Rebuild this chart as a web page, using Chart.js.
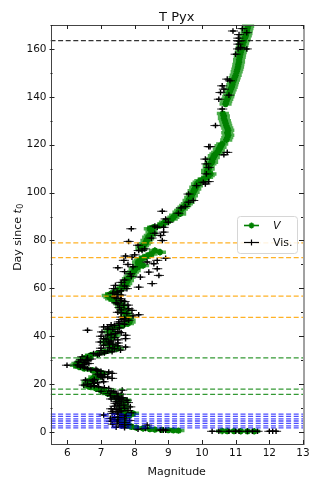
<!DOCTYPE html>
<html><head><meta charset="utf-8">
<script src="https://cdn.jsdelivr.net/npm/chart.js@4.4.0/dist/chart.umd.min.js"></script>
<style>html,body{margin:0;padding:0;background:#fff;}#wrap{width:322px;height:483px;}</style>
</head><body><div id="wrap"><canvas id="c" width="322" height="483"></canvas></div>
<script>
// ---- Data (magnitude vs day since t0) ----
const vDay = [0.3,0.3,0.35,0.4,0.4,0.45,0.6,0.7,0.8,0.9,1.0,1.2,1.5,1.8,2.2,2.7,3.2,3.8,4.3,5.0,5.7,6.3,7.0,7.8,8.5,9.2,9.9,10.6,11.3,12.0,12.7,13.3,14.0,14.7,15.4,16.1,16.8,17.5,18.2,18.9,19.6,20.3,21.0,21.7,22.4,23.0,23.7,24.5,25.1,25.8,26.5,27.2,27.9,28.6,29.3,30.0,30.7,31.4,32.1,32.8,33.5,34.2,34.9,35.5,36.2,37.0,37.6,38.3,39.0,39.7,40.4,41.1,41.8,42.5,43.2,43.9,44.6,45.3,46.0,46.7,47.4,48.0,48.7,49.5,50.1,50.8,51.5,52.2,52.9,53.6,54.3,55.0,55.7,56.4,57.0,57.8,58.5,59.2,59.9,60.6,61.3,62.0,62.7,63.3,64.0,64.7,65.4,66.1,66.8,67.5,68.2,68.9,69.6,70.3,71.0,71.7,72.4,73.0,73.7,74.4,75.1,75.8,76.5,77.2,77.9,78.6,79.3,80.0,80.7,81.4,82.1,82.8,83.5,84.2,84.9,85.5,86.2,87.0,87.6,88.3,89.0,89.7,90.5,91.1,91.8,92.5,93.2,93.9,94.6,95.3,96.0,96.7,97.4,98.0,98.7,99.4,100.1,100.8,101.5,102.2,102.9,103.6,104.3,105.0,105.7,106.4,107.1,107.8,108.5,109.2,109.9,110.6,111.3,112.0,112.7,113.3,114.0,114.7,115.4,116.1,116.8,117.5,118.2,118.9,119.6,120.3,122.0,123.0,124.0,125.0,126.0,127.0,128.0,129.0,130.0,131.0,132.0,133.0,137.0,138.0,139.0,140.0,141.0,142.0,143.0,144.0,145.0,146.0,147.0,148.0,149.0,150.5,151.5,152.5,153.5,154.5,155.5,156.5,157.5,158.5,159.5,160.5,161.5,162.5,163.5,164.5,165.5,166.5,167.5,168.5,169.5];
const vMag = [11.55,11.35,11.15,10.95,10.75,10.6,9.3,9.15,9.0,8.8,8.6,8.45,8.25,8.05,7.9,7.8,7.72,7.7,7.65,7.6,7.6,7.7,7.85,7.95,7.7,7.65,7.65,7.72,7.65,7.62,7.6,7.72,7.5,7.45,7.35,7.2,7.1,7.0,6.85,6.65,6.6,6.65,6.6,6.7,6.85,6.8,6.95,7.05,6.9,6.75,6.5,6.35,6.25,6.3,6.4,6.45,6.5,6.6,6.7,6.9,7.1,7.3,7.5,7.4,7.3,7.2,7.15,7.2,7.25,7.3,7.4,7.35,7.25,7.25,7.35,7.5,7.65,7.8,7.85,7.85,7.8,7.8,7.75,7.75,7.7,7.7,7.65,7.6,7.6,7.55,7.5,7.4,7.3,7.25,7.2,7.3,7.45,7.5,7.6,7.65,7.7,7.75,7.75,7.8,7.8,7.85,7.9,7.9,7.95,8.0,8.0,8.1,8.25,8.1,8.1,8.15,8.2,8.3,8.4,8.5,8.75,8.6,8.2,8.2,8.25,8.3,8.35,8.35,8.4,8.4,8.45,8.5,8.5,8.5,8.45,8.55,8.75,8.85,8.9,9.0,9.1,9.15,9.2,9.35,9.3,9.35,9.4,9.45,9.5,9.55,9.6,9.6,9.65,9.65,9.7,9.7,9.75,9.75,9.8,9.8,9.85,9.85,9.9,9.95,10.05,10.15,10.2,10.25,10.15,10.15,10.2,10.2,10.2,10.25,10.3,10.3,10.3,10.35,10.35,10.4,10.45,10.5,10.5,10.55,10.55,10.6,10.72,10.75,10.78,10.75,10.78,10.75,10.72,10.7,10.68,10.65,10.65,10.62,10.7,10.72,10.75,10.78,10.8,10.82,10.85,10.88,10.9,10.92,10.95,10.97,11.0,11.03,11.05,11.07,11.08,11.1,11.1,11.12,11.13,11.15,11.17,11.18,11.2,11.22,11.25,11.27,11.3,11.32,11.33,11.35,11.37];

const visDay = [0.3,0.3,0.3,0.3,0.3,0.3,0.3,0.3,0.3,0.3,0.3,0.8,0.8,0.8,1.5,2.9,1.2,1.8,2.5,2.9,3.5,4.0,4.3,5.0,5.7,6.2,7.1,7.8,8.3,8.8,9.4,10.0,10.5,11.25,11.8,12.0,12.6,13.3,14.0,14.6,15.4,16.2,16.8,17.5,18.2,18.9,19.6,20.3,21.0,21.7,22.4,23.0,23.75,24.5,25.1,25.8,26.5,27.2,27.9,28.6,29.3,30.0,31.4,32.1,32.8,33.5,34.2,35.5,36.25,37.6,37.6,39.0,39.0,40.4,41.1,41.8,42.5,43.9,45.3,46.0,46.7,49.0,49.5,50.8,51.5,52.9,55.7,58.5,59.9,59.9,60.5,61.25,62.0,64.7,65.4,66.1,66.8,68.2,68.6,70.3,71.0,71.7,71.7,72.6,73.0,73.5,75.8,75.8,79.6,80.0,82.1,83.5,84.9,85.5,85.5,87.6,89.0,91.4,92.2,93.6,94.2,96.0,96.7,99.4,102.9,103.6,104.3,104.6,107.8,110.5,112.0,114.0,115.8,116.8,119.2,119.2,128.0,134.9,139.0,140.7,141.8,143.2,144.6,146.7,147.4,157.8,160.0,160.0,160.6,162.0,163.3,164.5,166.0,166.8,167.5,168.5,44.0,44.5,43.0,40.0,38.0,36.8,35.0,34.0,47.5,48.0,50.0,51.0,53.5,54.5,56.5,57.5,59.0,61.0,62.5,63.5,65.0,67.0,69.0,70.0,74.0,76.5,78.0,81.0,83.0,86.0,15.0,16.0,17.0,19.0,20.0,22.0,23.0,24.0,26.0,27.0,28.0,29.0,30.5,31.0,33.0,34.8,36.0,38.5,40.5,42.0,45.0,5.5,6.5,7.5,9.0,10.8,12.3,13.8,3.0,4.8,6.8,8.0,9.7,
  2.0,3.3,4.5,5.2,6.0,7.3,8.6,9.9,11.0,12.8,13.5,14.3,15.8,17.2,18.5,19.3,20.6,21.3,22.7,24.2,25.4,26.2,27.6,28.2,29.7,30.2,32.5,33.8,35.2,36.5,37.2,38.8,39.5,40.8,41.5,42.8,43.5,44.8,46.3,47.0,48.5,49.8,52.0,53.0,54.0,55.0,56.0,57.2,58.0];
const visMag = [10.3,10.5,10.8,11.0,11.1,11.35,11.5,11.65,12.0,12.1,12.2,8.77,8.92,8.85,8.32,8.37,8.1,7.7,7.6,7.63,7.55,7.7,7.48,7.5,7.28,7.4,7.08,7.33,7.5,7.6,7.45,7.55,7.87,7.68,7.5,7.43,7.6,7.77,7.53,7.4,7.28,7.45,7.38,7.63,7.23,6.93,6.49,6.78,7.08,6.54,7.33,7.0,6.98,7.33,7.23,6.88,6.6,6.39,5.99,6.64,6.34,6.59,6.44,6.9,6.78,7.33,7.58,7.73,7.08,6.98,7.23,7.73,7.08,7.73,7.43,7.03,6.6,7.08,7.53,7.53,7.82,8.12,7.77,7.92,7.82,7.68,7.58,7.48,7.38,7.77,8.12,7.43,8.52,8.17,8.72,7.87,8.42,8.67,7.5,8.57,8.37,8.67,7.68,8.92,7.92,7.73,8.12,8.22,7.82,8.82,8.77,8.86,7.9,8.67,8.86,9.0,8.92,9.3,8.82,9.38,9.5,9.6,9.74,9.6,9.84,10.1,10.04,10.2,10.13,10.2,10.13,10.1,10.65,10.75,10.2,10.24,10.4,10.6,10.5,10.8,10.55,10.65,10.6,10.83,10.75,11.0,11.07,11.33,11.15,11.08,11.1,11.08,11.1,11.33,10.92,11.2,7.2,7.4,7.2,7.0,7.3,7.25,7.0,7.0,7.7,7.6,7.5,7.6,7.5,7.7,7.4,7.5,7.6,7.7,7.6,7.7,7.9,7.7,7.95,7.8,8.0,8.3,8.1,8.5,8.6,8.6,7.5,7.2,7.0,6.7,6.6,6.8,7.2,7.1,6.7,6.5,6.3,6.5,6.7,6.6,7.1,7.4,7.5,7.5,7.2,7.5,7.7,7.7,7.6,7.5,7.8,7.4,7.8,7.3,7.8,7.85,7.75,7.9,7.3,
  7.45,7.35,7.3,7.4,7.55,7.6,7.35,7.7,7.55,7.45,7.55,7.65,7.6,7.3,7.1,6.8,6.9,6.75,7.05,6.9,7.0,6.85,6.45,6.5,6.55,6.4,6.95,7.2,7.25,7.35,7.5,7.15,7.4,7.3,7.6,7.35,7.55,7.3,7.7,7.6,7.95,7.6,7.55,7.8,7.45,7.6,7.45,7.6,7.35];

const V_ERR = 0.18;     // typical V error (mag)
const VIS_ERR = 0.15;   // typical visual error (mag)

const blackLineDays  = [163.5];
const orangeLineDays = [79, 72.8, 56.8, 47.9];
const greenLineDays  = [31, 17.9, 15.7];
const blueLineDays   = [7.5, 6.5, 5.5, 4.6, 3.6, 2.6, 1.7];

const xTicks = [6,7,8,9,10,11,12,13];
const yTicks = [0,20,40,60,80,100,120,140,160];
const yMinor = [10,30,50,70,90,110,130,150,170];
const X_MIN = 5.5, X_MAX = 13, Y_MIN = -5, Y_MAX = 170;

const FONT = "'DejaVu Sans', sans-serif";

function pts(xs, ys){ return xs.map((d,i)=>({x: ys[i], y: d})); }
function hline(day, color){
  return {type:'scatter', showLine:true, data:[{x:X_MIN,y:day},{x:X_MAX,y:day}],
    borderColor:color, borderWidth:1.3, borderDash:[5,2.6], pointRadius:0};
}
const lineSets = [
  ...blackLineDays.map(d=>hline(d,'rgba(0,0,0,0.8)')),
  ...orangeLineDays.map(d=>hline(d,'rgba(255,165,0,0.85)')),
  ...greenLineDays.map(d=>hline(d,'rgba(0,128,0,0.8)')),
  ...blueLineDays.map(d=>hline(d,'rgba(0,0,255,0.7)')),
];

const errPlugin = {
  id:'errbars',
  beforeDatasetDraw(chart, args){
    const ds = chart.data.datasets[args.index];
    if(!ds.xErr) return;
    const xs = chart.scales.x, ys = chart.scales.y, ctx = chart.ctx;
    ctx.save();
    ctx.strokeStyle = ds.errColor; ctx.lineWidth = ds.errWidth;
    ctx.beginPath();
    ds.data.forEach(p=>{
      const y = ys.getPixelForValue(p.y);
      ctx.moveTo(xs.getPixelForValue(p.x - ds.xErr), y);
      ctx.lineTo(xs.getPixelForValue(p.x + ds.xErr), y);
    });
    ctx.stroke();
    ctx.restore();
  }
};

const decoPlugin = {
  id:'deco',
  afterDraw(chart){
    const ctx = chart.ctx, a = chart.chartArea, xs = chart.scales.x, ys = chart.scales.y;
    ctx.save();
    ctx.strokeStyle = '#444'; ctx.lineWidth = 1;
    ctx.strokeRect(Math.round(a.left)+0.5, Math.round(a.top)+0.5, Math.round(a.right-a.left)-1+0.5, Math.round(a.bottom-a.top));
    ctx.strokeStyle = '#222'; ctx.beginPath();
    xTicks.forEach(v=>{
      const x = Math.round(xs.getPixelForValue(v))+0.5;
      ctx.moveTo(x, a.bottom); ctx.lineTo(x, a.bottom-4);
      ctx.moveTo(x, a.top); ctx.lineTo(x, a.top+4);
    });
    yTicks.forEach(v=>{
      const y = Math.round(ys.getPixelForValue(v))+0.5;
      ctx.moveTo(a.left-1, y); ctx.lineTo(a.left+4, y);
      ctx.moveTo(a.right+1, y); ctx.lineTo(a.right-4, y);
    });
    yMinor.forEach(v=>{
      const y = Math.round(ys.getPixelForValue(v))+0.5;
      ctx.moveTo(a.left, y); ctx.lineTo(a.left+2, y);
      ctx.moveTo(a.right, y); ctx.lineTo(a.right-2, y);
    });
    ctx.stroke();
    ctx.fillStyle = '#111'; ctx.textAlign = 'center'; ctx.textBaseline = 'middle';
    ctx.font = '13px ' + FONT;
    ctx.fillText('T Pyx', (a.left+a.right)/2, 18);
    ctx.save();
    ctx.translate(18, (a.top+a.bottom)/2 + 3);
    ctx.rotate(-Math.PI/2);
    ctx.textAlign = 'left'; ctx.textBaseline = 'middle';
    const f1 = '11px ' + FONT, f2 = 'italic 11px ' + FONT, f3 = '8px ' + FONT;
    ctx.font = f1; const w1 = ctx.measureText('Day since ').width;
    ctx.font = f2; const w2 = ctx.measureText('t').width;
    ctx.font = f3; const w3 = ctx.measureText('0').width;
    let x0 = -(w1+w2+w3)/2;
    ctx.font = f1; ctx.fillText('Day since ', x0, 0);
    ctx.font = f2; ctx.fillText('t', x0+w1, 0);
    ctx.font = f3; ctx.fillText('0', x0+w1+w2+0.5, 3);
    ctx.restore();
    const lx = 237, ly = 216, lw = 60, lh = 37;
    ctx.beginPath();
    ctx.roundRect(lx+0.5, ly+0.5, lw, lh, 3);
    ctx.fillStyle = 'rgba(255,255,255,0.85)'; ctx.fill();
    ctx.strokeStyle = '#d6d6d6'; ctx.lineWidth = 1; ctx.stroke();
    const rows = [{y:225, c:'#008000', lab:'V', it:true, star:true},{y:242, c:'#000', lab:'Vis.', it:false, star:false}];
    rows.forEach(r=>{
      ctx.strokeStyle = r.c; ctx.lineWidth = r.star ? 1.6 : 1.2;
      ctx.beginPath(); ctx.moveTo(244, r.y+0.5); ctx.lineTo(259, r.y+0.5); ctx.stroke();
      const cx = 251.5, cy = r.y+0.5, s = 3;
      ctx.beginPath();
      ctx.moveTo(cx, cy-s); ctx.lineTo(cx, cy+s);
      ctx.moveTo(cx-s, cy); ctx.lineTo(cx+s, cy);
      if(r.star){ ctx.moveTo(cx-2,cy-2); ctx.lineTo(cx+2,cy+2); ctx.moveTo(cx-2,cy+2); ctx.lineTo(cx+2,cy-2); }
      ctx.stroke();
      ctx.fillStyle = '#111'; ctx.textAlign = 'left'; ctx.textBaseline = 'middle';
      ctx.font = (r.it ? 'italic ' : '') + '11px ' + FONT;
      ctx.fillText(r.lab, 273, r.y+1);
    });
    ctx.restore();
  }
};

new Chart(document.getElementById('c'), {
  type: 'scatter',
  data: {
    datasets: [
      ...lineSets,
      {label:'Vis.', data: pts(visDay, visMag), showLine:false, pointStyle:'cross', pointRadius:2.8,
        borderColor:'#000', backgroundColor:'#000', pointBorderWidth:1.4,
        xErr: VIS_ERR, errColor:'rgba(0,0,0,0.85)', errWidth:1},
      {label:'V', data: pts(vDay, vMag), showLine:false, pointStyle:'star', pointRadius:3.2,
        borderColor:'#008000', backgroundColor:'#008000', pointBorderWidth:1.8,
        xErr: V_ERR, errColor:'rgba(0,140,0,0.7)', errWidth:3.5}
    ]
  },
  options: {
    responsive:false, animation:false, devicePixelRatio:1,
    layout:{padding:{left:0, right:19, top:25, bottom:0}},
    plugins:{legend:{display:false}, tooltip:{enabled:false}},
    scales:{
      x:{type:'linear', min:X_MIN, max:X_MAX,
        afterBuildTicks: s=>{ s.ticks = xTicks.map(v=>({value:v})); },
        afterFit: s=>{ s.height = 39; },
        grid:{display:false, drawTicks:false}, border:{display:false},
        ticks:{font:{family:FONT, size:10.5}, color:'#111', padding:3, maxRotation:0},
        title:{display:true, text:'Magnitude', font:{family:FONT, size:11}, color:'#111', padding:{top:1}}
      },
      y:{type:'linear', min:Y_MIN, max:Y_MAX,
        afterBuildTicks: s=>{ s.ticks = yTicks.map(v=>({value:v})); },
        afterFit: s=>{ s.width = 50.5; },
        grid:{display:false, drawTicks:false}, border:{display:false},
        ticks:{font:{family:FONT, size:10.5}, color:'#111', padding:4}
      }
    }
  },
  plugins:[errPlugin, decoPlugin]
});
</script></body></html>
